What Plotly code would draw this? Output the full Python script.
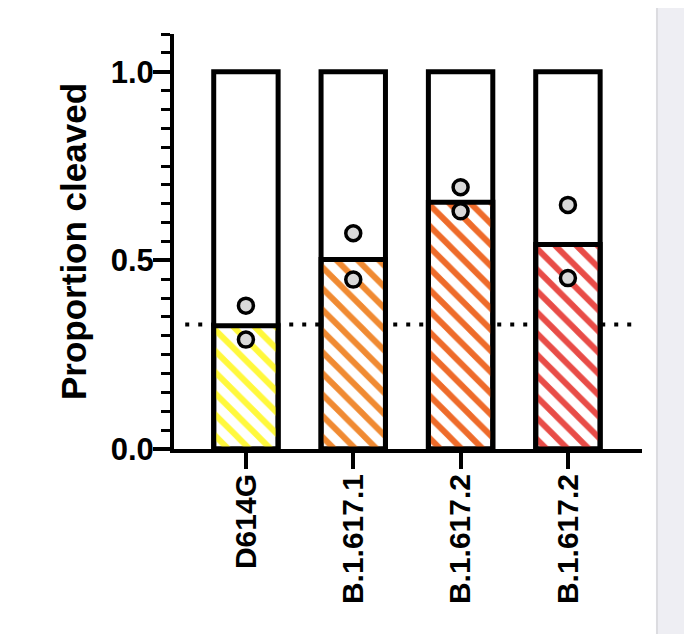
import plotly.graph_objects as go

# ---- data ----
categories = ["D614G", "B.1.617.1", "B.1.617.2", "B.1.617.2"]
mean_values = [0.327, 0.502, 0.654, 0.542]
replicate_1 = [0.380, 0.572, 0.694, 0.647]
replicate_2 = [0.290, 0.449, 0.630, 0.453]
total_values = [1.0, 1.0, 1.0, 1.0]
reference_level = 0.33
bar_colors = ["#FFF83C", "#F08A32", "#EE6B2A", "#E84C47"]
y_tick_values = [0.0, 0.5, 1.0]
y_tick_labels = ["0.0", "0.5", "1.0"]

positions = list(range(len(categories)))

FONT = "Liberation Sans, Arial, sans-serif"

fig = go.Figure()

# full (uncleaved + cleaved) bar outline
fig.add_trace(go.Bar(
    x=positions, y=total_values, width=0.6,
    marker=dict(color="white", line=dict(color="black", width=5)),
    hoverinfo="skip", showlegend=False,
))

# cleaved proportion, hatched
fig.add_trace(go.Bar(
    x=positions, y=mean_values, width=0.6,
    marker=dict(
        color=bar_colors,
        line=dict(color="black", width=5),
        pattern=dict(shape="\\", fillmode="replace", fgcolor="white",
                     bgcolor=bar_colors, size=15, solidity=0.4),
    ),
    showlegend=False,
))

# replicate points
pts_x = positions + positions
pts_y = replicate_1 + replicate_2
fig.add_trace(go.Scatter(
    x=pts_x, y=pts_y, mode="markers",
    marker=dict(size=15, color="#D9D9D9", line=dict(color="black", width=3.5)),
    showlegend=False,
))

# dotted reference line (behind bars)
fig.add_shape(type="line", xref="paper", yref="y",
              x0=0.024, x1=0.989, y0=reference_level, y1=reference_level,
              line=dict(color="black", width=4, dash="4px,9px"),
              layer="between")

# grey browser strip on the right
fig.add_shape(type="rect", xref="paper", yref="paper",
              x0=1.032, x1=1.2, y0=-1, y1=2,
              fillcolor="#EEEEF3", line=dict(width=0), layer="above")
fig.add_shape(type="line", xref="paper", yref="paper",
              x0=1.032, x1=1.032, y0=-1, y1=2,
              line=dict(color="#DCDCE0", width=2), layer="above")

fig.update_layout(
    width=684, height=626,
    margin=dict(l=166, r=50, t=26, b=185),
    paper_bgcolor="white", plot_bgcolor="white",
    barmode="overlay",
    font=dict(family=FONT, color="black"),
)

fig.update_xaxes(
    range=[-0.67, 3.69],
    tickvals=positions, ticktext=categories, tickangle=-90,
    ticks="outside", ticklen=16, tickwidth=4, tickcolor="black",
    ticklabelstandoff=-7,
    showline=True, linewidth=4, linecolor="black",
    showgrid=False, zeroline=False,
    tickfont=dict(size=30, family=FONT, weight="bold", color="black"),
)

fig.update_yaxes(
    range=[0, 1.1],
    tickvals=y_tick_values, ticktext=y_tick_labels,
    ticks="outside", ticklen=17, tickwidth=4, tickcolor="black",
    ticklabelstandoff=-7,
    showline=True, linewidth=4, linecolor="black",
    showgrid=False, zeroline=False,
    tickfont=dict(size=31, family=FONT, weight="bold", color="black"),
    minor=dict(dtick=0.05, tick0=0, ticks="outside", ticklen=9, tickwidth=3,
               tickcolor="black", showgrid=False),
    title=dict(text="Proportion cleaved", standoff=14,
               font=dict(size=35, family=FONT, weight="bold", color="black")),
)

fig.write_html("out.html")
